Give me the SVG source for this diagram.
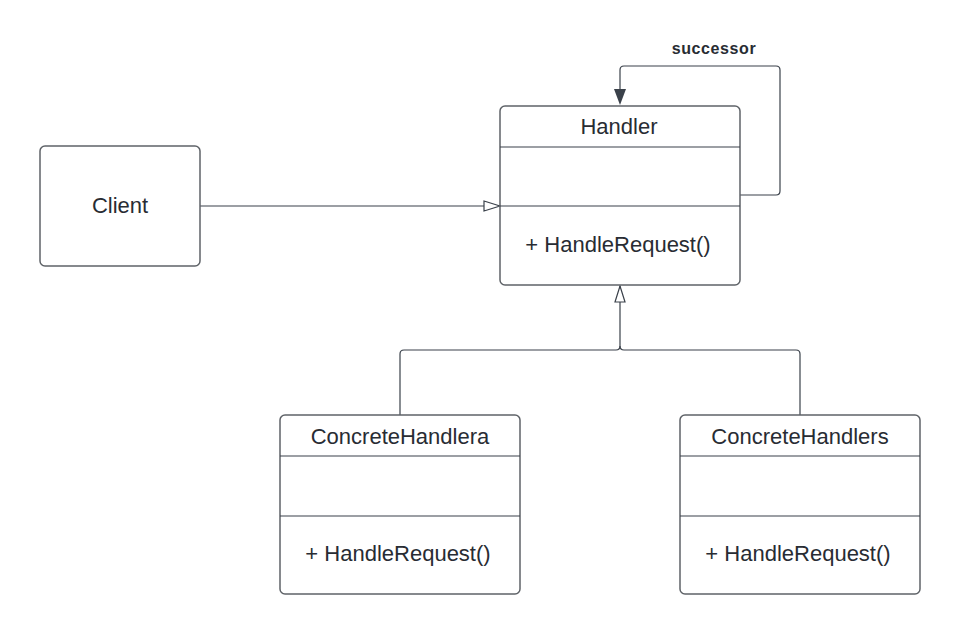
<svg xmlns="http://www.w3.org/2000/svg" width="960" height="634" viewBox="0 0 960 634">
  <style>
    .box { fill: #ffffff; stroke: #5f6368; stroke-width: 1.5; }
    .div { stroke: #3a414a; stroke-width: 1.2; }
    .lbl { font-family: "Liberation Sans", Arial, sans-serif; font-size: 22px; fill: #282c33; text-anchor: middle; }
    .edge { fill: none; stroke: #3a414a; stroke-width: 1.2; }
    .note { font-family: "Liberation Sans", Arial, sans-serif; font-size: 16px; font-weight: bold; fill: #282c33; text-anchor: middle; }
  </style>
  <defs>
    <marker id="hollow" viewBox="0 0 18 12" refX="17" refY="6" markerWidth="18" markerHeight="12" markerUnits="userSpaceOnUse" orient="auto">
      <path d="M1,1 L17,6 L1,11 Z" fill="#ffffff" stroke="#3a414a" stroke-width="1.2"/>
    </marker>
  </defs>
  <rect width="960" height="634" fill="#ffffff"/>

  <g id="connectors">
    <!-- Client to Handler -->
    <path class="edge" d="M200,206 L500,206" marker-end="url(#hollow)"/>
    <!-- successor self-loop -->
    <path class="edge" d="M740,195 L776,195 Q780,195 780,191 L780,70 Q780,66 776,66 L624,66 Q620,66 620,70 L620,90"/>
    <path d="M614,89 L626,89 L620,105 Z" fill="#3a414a"/>
    <!-- generalization from concrete handlers -->
    <path class="edge" d="M400,415 L400,354 Q400,350 404,350 L616,350 Q620,350 620,346 L620,286" marker-end="url(#hollow)"/>
    <path class="edge" d="M800,415 L800,354 Q800,350 796,350 L624,350 Q620,350 620,346"/>
  </g>

  <g id="successor-label">
    <text class="note" x="714" y="54" letter-spacing="0.6">successor</text>
  </g>

  <g id="client">
    <rect class="box" x="40" y="146" width="160" height="120" rx="5"/>
    <text class="lbl" x="120" y="213">Client</text>
  </g>

  <g id="handler">
    <rect class="box" x="500" y="106" width="240" height="179" rx="5"/>
    <line class="div" x1="500" y1="147" x2="740" y2="147"/>
    <line class="div" x1="500" y1="206" x2="740" y2="206"/>
    <text class="lbl" x="619" y="134">Handler</text>
    <text class="lbl" x="618" y="252">+ HandleRequest()</text>
  </g>

  <g id="concrete-handler-a">
    <rect class="box" x="280" y="415" width="240" height="179" rx="5"/>
    <line class="div" x1="280" y1="456" x2="520" y2="456"/>
    <line class="div" x1="280" y1="516" x2="520" y2="516"/>
    <text class="lbl" x="400" y="444">ConcreteHandlera</text>
    <text class="lbl" x="398" y="561">+ HandleRequest()</text>
  </g>

  <g id="concrete-handler-s">
    <rect class="box" x="680" y="415" width="240" height="179" rx="5"/>
    <line class="div" x1="680" y1="456" x2="920" y2="456"/>
    <line class="div" x1="680" y1="516" x2="920" y2="516"/>
    <text class="lbl" x="800" y="444">ConcreteHandlers</text>
    <text class="lbl" x="798" y="561">+ HandleRequest()</text>
  </g>
</svg>
